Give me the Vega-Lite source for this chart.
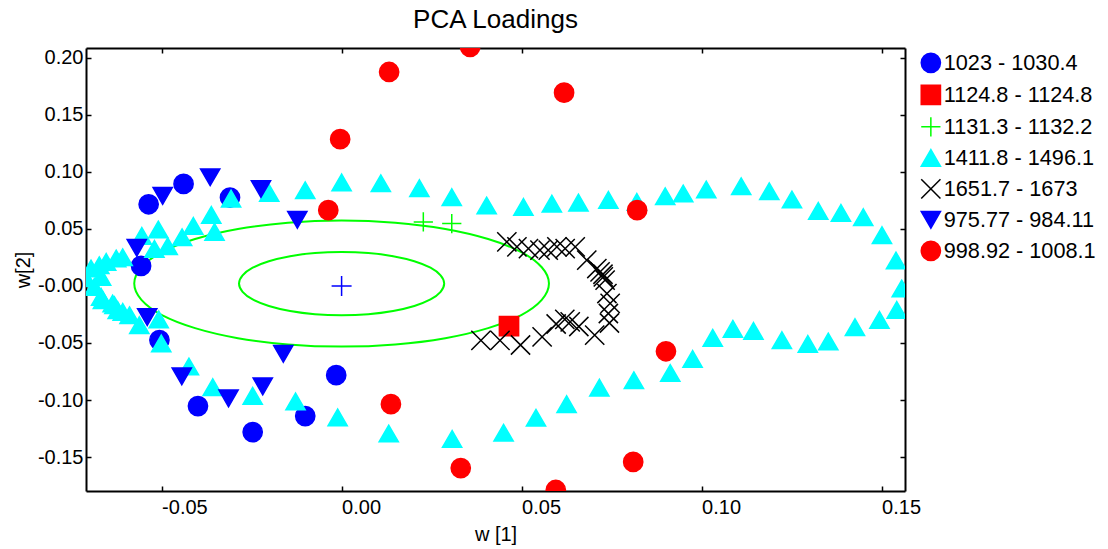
{
  "$schema": "https://vega.github.io/schema/vega-lite/v6.json",
  "width": 819,
  "height": 443,
  "autosize": {"type": "none"},
  "padding": {"left": 86, "top": 48, "right": 203, "bottom": 58},
  "background": "white",
  "title": {"text": "PCA Loadings", "fontSize": 26, "fontWeight": "normal", "color": "black", "anchor": "middle", "offset": 14},
  "config": {
    "font": "Liberation Sans",
    "view": {"stroke": null},
    "axis": {
      "grid": false,
      "domainColor": "black",
      "domainWidth": 2,
      "tickColor": "black",
      "tickWidth": 1.5,
      "tickSize": -5,
      "labelFontSize": 20,
      "labelColor": "black",
      "labelFlush": false,
      "labelOverlap": false,
      "titleFontSize": 20,
      "titleFontWeight": "normal",
      "titleColor": "black"
    }
  },
  "datasets": {
    "loadings": [
      {"band": "1023 - 1030.4", "w1": -0.0536, "w2": 0.0715},
      {"band": "1023 - 1030.4", "w1": -0.0439, "w2": 0.0893},
      {"band": "1023 - 1030.4", "w1": -0.0310, "w2": 0.0774},
      {"band": "1023 - 1030.4", "w1": -0.0557, "w2": 0.0175},
      {"band": "1023 - 1030.4", "w1": -0.0506, "w2": -0.0475},
      {"band": "1023 - 1030.4", "w1": -0.0399, "w2": -0.1053},
      {"band": "1023 - 1030.4", "w1": -0.0247, "w2": -0.1281},
      {"band": "1023 - 1030.4", "w1": -0.0101, "w2": -0.1141},
      {"band": "1023 - 1030.4", "w1": -0.0015, "w2": -0.0782},
      {"band": "1124.8 - 1124.8", "w1": 0.0465, "w2": -0.0353},
      {"band": "1131.3 - 1132.2", "w1": 0.0227, "w2": 0.0560},
      {"band": "1131.3 - 1132.2", "w1": 0.0306, "w2": 0.0546},
      {"band": "1411.8 - 1496.1", "w1": -0.0710, "w2": 0.0067},
      {"band": "1411.8 - 1496.1", "w1": -0.0696, "w2": 0.0152},
      {"band": "1411.8 - 1496.1", "w1": -0.0673, "w2": 0.0181},
      {"band": "1411.8 - 1496.1", "w1": -0.0654, "w2": 0.0210},
      {"band": "1411.8 - 1496.1", "w1": -0.0626, "w2": 0.0240},
      {"band": "1411.8 - 1496.1", "w1": -0.0608, "w2": 0.0251},
      {"band": "1411.8 - 1496.1", "w1": -0.0555, "w2": 0.0438},
      {"band": "1411.8 - 1496.1", "w1": -0.0520, "w2": 0.0324},
      {"band": "1411.8 - 1496.1", "w1": -0.0509, "w2": 0.0494},
      {"band": "1411.8 - 1496.1", "w1": -0.0483, "w2": 0.0348},
      {"band": "1411.8 - 1496.1", "w1": -0.0443, "w2": 0.0426},
      {"band": "1411.8 - 1496.1", "w1": -0.0412, "w2": 0.0525},
      {"band": "1411.8 - 1496.1", "w1": -0.0362, "w2": 0.0622},
      {"band": "1411.8 - 1496.1", "w1": -0.0353, "w2": 0.0473},
      {"band": "1411.8 - 1496.1", "w1": -0.0307, "w2": 0.0765},
      {"band": "1411.8 - 1496.1", "w1": -0.0201, "w2": 0.0814},
      {"band": "1411.8 - 1496.1", "w1": -0.0101, "w2": 0.0838},
      {"band": "1411.8 - 1496.1", "w1": 0.0000, "w2": 0.0907},
      {"band": "1411.8 - 1496.1", "w1": 0.0109, "w2": 0.0899},
      {"band": "1411.8 - 1496.1", "w1": 0.0216, "w2": 0.0856},
      {"band": "1411.8 - 1496.1", "w1": 0.0306, "w2": 0.0777},
      {"band": "1411.8 - 1496.1", "w1": 0.0403, "w2": 0.0704},
      {"band": "1411.8 - 1496.1", "w1": 0.0505, "w2": 0.0692},
      {"band": "1411.8 - 1496.1", "w1": 0.0584, "w2": 0.0721},
      {"band": "1411.8 - 1496.1", "w1": 0.0658, "w2": 0.0730},
      {"band": "1411.8 - 1496.1", "w1": 0.0741, "w2": 0.0753},
      {"band": "1411.8 - 1496.1", "w1": 0.0820, "w2": 0.0736},
      {"band": "1411.8 - 1496.1", "w1": 0.0899, "w2": 0.0785},
      {"band": "1411.8 - 1496.1", "w1": 0.0949, "w2": 0.0809},
      {"band": "1411.8 - 1496.1", "w1": 0.1013, "w2": 0.0844},
      {"band": "1411.8 - 1496.1", "w1": 0.1110, "w2": 0.0873},
      {"band": "1411.8 - 1496.1", "w1": 0.1188, "w2": 0.0829},
      {"band": "1411.8 - 1496.1", "w1": 0.1251, "w2": 0.0757},
      {"band": "1411.8 - 1496.1", "w1": 0.1324, "w2": 0.0657},
      {"band": "1411.8 - 1496.1", "w1": 0.1387, "w2": 0.0639},
      {"band": "1411.8 - 1496.1", "w1": 0.1449, "w2": 0.0602},
      {"band": "1411.8 - 1496.1", "w1": 0.1501, "w2": 0.0444},
      {"band": "1411.8 - 1496.1", "w1": 0.1540, "w2": 0.0222},
      {"band": "1411.8 - 1496.1", "w1": 0.1556, "w2": -0.0023},
      {"band": "1411.8 - 1496.1", "w1": 0.1542, "w2": -0.0210},
      {"band": "1411.8 - 1496.1", "w1": 0.1494, "w2": -0.0298},
      {"band": "1411.8 - 1496.1", "w1": 0.1426, "w2": -0.0362},
      {"band": "1411.8 - 1496.1", "w1": 0.1352, "w2": -0.0487},
      {"band": "1411.8 - 1496.1", "w1": 0.1295, "w2": -0.0508},
      {"band": "1411.8 - 1496.1", "w1": 0.1223, "w2": -0.0475},
      {"band": "1411.8 - 1496.1", "w1": 0.1144, "w2": -0.0394},
      {"band": "1411.8 - 1496.1", "w1": 0.1087, "w2": -0.0376},
      {"band": "1411.8 - 1496.1", "w1": 0.1031, "w2": -0.0455},
      {"band": "1411.8 - 1496.1", "w1": 0.0975, "w2": -0.0640},
      {"band": "1411.8 - 1496.1", "w1": 0.0913, "w2": -0.0763},
      {"band": "1411.8 - 1496.1", "w1": 0.0812, "w2": -0.0827},
      {"band": "1411.8 - 1496.1", "w1": 0.0716, "w2": -0.0891},
      {"band": "1411.8 - 1496.1", "w1": 0.0625, "w2": -0.1036},
      {"band": "1411.8 - 1496.1", "w1": 0.0540, "w2": -0.1155},
      {"band": "1411.8 - 1496.1", "w1": 0.0450, "w2": -0.1287},
      {"band": "1411.8 - 1496.1", "w1": 0.0307, "w2": -0.1340},
      {"band": "1411.8 - 1496.1", "w1": 0.0131, "w2": -0.1293},
      {"band": "1411.8 - 1496.1", "w1": -0.0011, "w2": -0.1152},
      {"band": "1411.8 - 1496.1", "w1": -0.0128, "w2": -0.1012},
      {"band": "1411.8 - 1496.1", "w1": -0.0247, "w2": -0.0963},
      {"band": "1411.8 - 1496.1", "w1": -0.0358, "w2": -0.0887},
      {"band": "1411.8 - 1496.1", "w1": -0.0424, "w2": -0.0706},
      {"band": "1411.8 - 1496.1", "w1": -0.0501, "w2": -0.0504},
      {"band": "1411.8 - 1496.1", "w1": -0.0508, "w2": -0.0294},
      {"band": "1411.8 - 1496.1", "w1": -0.0562, "w2": -0.0344},
      {"band": "1411.8 - 1496.1", "w1": -0.0589, "w2": -0.0257},
      {"band": "1411.8 - 1496.1", "w1": -0.0608, "w2": -0.0228},
      {"band": "1411.8 - 1496.1", "w1": -0.0622, "w2": -0.0213},
      {"band": "1411.8 - 1496.1", "w1": -0.0631, "w2": -0.0169},
      {"band": "1411.8 - 1496.1", "w1": -0.0636, "w2": -0.0154},
      {"band": "1411.8 - 1496.1", "w1": -0.0663, "w2": -0.0125},
      {"band": "1411.8 - 1496.1", "w1": -0.0668, "w2": -0.0096},
      {"band": "1411.8 - 1496.1", "w1": -0.0687, "w2": -0.0009},
      {"band": "1411.8 - 1496.1", "w1": -0.0668, "w2": 0.0079},
      {"band": "1651.7 - 1673", "w1": 0.0459, "w2": 0.0385},
      {"band": "1651.7 - 1673", "w1": 0.0487, "w2": 0.0342},
      {"band": "1651.7 - 1673", "w1": 0.0519, "w2": 0.0327},
      {"band": "1651.7 - 1673", "w1": 0.0551, "w2": 0.0313},
      {"band": "1651.7 - 1673", "w1": 0.0574, "w2": 0.0313},
      {"band": "1651.7 - 1673", "w1": 0.0598, "w2": 0.0342},
      {"band": "1651.7 - 1673", "w1": 0.0621, "w2": 0.0327},
      {"band": "1651.7 - 1673", "w1": 0.0649, "w2": 0.0342},
      {"band": "1651.7 - 1673", "w1": 0.0681, "w2": 0.0225},
      {"band": "1651.7 - 1673", "w1": 0.0709, "w2": 0.0152},
      {"band": "1651.7 - 1673", "w1": 0.0718, "w2": 0.0123},
      {"band": "1651.7 - 1673", "w1": 0.0726, "w2": 0.0102},
      {"band": "1651.7 - 1673", "w1": 0.0727, "w2": 0.0079},
      {"band": "1651.7 - 1673", "w1": 0.0732, "w2": 0.0050},
      {"band": "1651.7 - 1673", "w1": 0.0737, "w2": -0.0067},
      {"band": "1651.7 - 1673", "w1": 0.0746, "w2": -0.0154},
      {"band": "1651.7 - 1673", "w1": 0.0741, "w2": -0.0242},
      {"band": "1651.7 - 1673", "w1": 0.0744, "w2": -0.0325},
      {"band": "1651.7 - 1673", "w1": 0.0703, "w2": -0.0432},
      {"band": "1651.7 - 1673", "w1": 0.0659, "w2": -0.0356},
      {"band": "1651.7 - 1673", "w1": 0.0635, "w2": -0.0315},
      {"band": "1651.7 - 1673", "w1": 0.0620, "w2": -0.0294},
      {"band": "1651.7 - 1673", "w1": 0.0596, "w2": -0.0334},
      {"band": "1651.7 - 1673", "w1": 0.0557, "w2": -0.0447},
      {"band": "1651.7 - 1673", "w1": 0.0497, "w2": -0.0518},
      {"band": "1651.7 - 1673", "w1": 0.0440, "w2": -0.0478},
      {"band": "1651.7 - 1673", "w1": 0.0387, "w2": -0.0478},
      {"band": "975.77 - 984.11", "w1": -0.0497, "w2": 0.0788},
      {"band": "975.77 - 984.11", "w1": -0.0365, "w2": 0.0952},
      {"band": "975.77 - 984.11", "w1": -0.0224, "w2": 0.0849},
      {"band": "975.77 - 984.11", "w1": -0.0569, "w2": 0.0333},
      {"band": "975.77 - 984.11", "w1": -0.0540, "w2": -0.0274},
      {"band": "975.77 - 984.11", "w1": -0.0444, "w2": -0.0793},
      {"band": "975.77 - 984.11", "w1": -0.0314, "w2": -0.0986},
      {"band": "975.77 - 984.11", "w1": -0.0219, "w2": -0.0881},
      {"band": "975.77 - 984.11", "w1": -0.0162, "w2": -0.0595},
      {"band": "975.77 - 984.11", "w1": -0.0123, "w2": 0.0578},
      {"band": "998.92 - 1008.1", "w1": 0.0357, "w2": 0.2093},
      {"band": "998.92 - 1008.1", "w1": 0.0132, "w2": 0.1874},
      {"band": "998.92 - 1008.1", "w1": 0.0618, "w2": 0.1693},
      {"band": "998.92 - 1008.1", "w1": -0.0004, "w2": 0.1285},
      {"band": "998.92 - 1008.1", "w1": -0.0037, "w2": 0.0663},
      {"band": "998.92 - 1008.1", "w1": 0.0821, "w2": 0.0663},
      {"band": "998.92 - 1008.1", "w1": 0.0901, "w2": -0.0573},
      {"band": "998.92 - 1008.1", "w1": 0.0137, "w2": -0.1036},
      {"band": "998.92 - 1008.1", "w1": 0.0331, "w2": -0.1596},
      {"band": "998.92 - 1008.1", "w1": 0.0595, "w2": -0.1788},
      {"band": "998.92 - 1008.1", "w1": 0.0810, "w2": -0.1542}
    ],
    "ellipses": [
      {"ring": "outer", "i": 0, "w1": 0.0576, "w2": 0.0020},
      {"ring": "outer", "i": 1, "w1": 0.0556, "w2": 0.0163},
      {"ring": "outer", "i": 2, "w1": 0.0499, "w2": 0.0296},
      {"ring": "outer", "i": 3, "w1": 0.0407, "w2": 0.0410},
      {"ring": "outer", "i": 4, "w1": 0.0288, "w2": 0.0498},
      {"ring": "outer", "i": 5, "w1": 0.0149, "w2": 0.0553},
      {"ring": "outer", "i": 6, "w1": 0.0000, "w2": 0.0572},
      {"ring": "outer", "i": 7, "w1": -0.0149, "w2": 0.0553},
      {"ring": "outer", "i": 8, "w1": -0.0288, "w2": 0.0498},
      {"ring": "outer", "i": 9, "w1": -0.0407, "w2": 0.0410},
      {"ring": "outer", "i": 10, "w1": -0.0499, "w2": 0.0296},
      {"ring": "outer", "i": 11, "w1": -0.0556, "w2": 0.0163},
      {"ring": "outer", "i": 12, "w1": -0.0576, "w2": 0.0020},
      {"ring": "outer", "i": 13, "w1": -0.0556, "w2": -0.0123},
      {"ring": "outer", "i": 14, "w1": -0.0499, "w2": -0.0256},
      {"ring": "outer", "i": 15, "w1": -0.0407, "w2": -0.0370},
      {"ring": "outer", "i": 16, "w1": -0.0288, "w2": -0.0458},
      {"ring": "outer", "i": 17, "w1": -0.0149, "w2": -0.0513},
      {"ring": "outer", "i": 18, "w1": 0.0000, "w2": -0.0532},
      {"ring": "outer", "i": 19, "w1": 0.0149, "w2": -0.0513},
      {"ring": "outer", "i": 20, "w1": 0.0288, "w2": -0.0458},
      {"ring": "outer", "i": 21, "w1": 0.0407, "w2": -0.0370},
      {"ring": "outer", "i": 22, "w1": 0.0499, "w2": -0.0256},
      {"ring": "outer", "i": 23, "w1": 0.0556, "w2": -0.0123},
      {"ring": "inner", "i": 0, "w1": 0.0285, "w2": 0.0020},
      {"ring": "inner", "i": 1, "w1": 0.0275, "w2": 0.0092},
      {"ring": "inner", "i": 2, "w1": 0.0247, "w2": 0.0159},
      {"ring": "inner", "i": 3, "w1": 0.0202, "w2": 0.0216},
      {"ring": "inner", "i": 4, "w1": 0.0143, "w2": 0.0260},
      {"ring": "inner", "i": 5, "w1": 0.0074, "w2": 0.0288},
      {"ring": "inner", "i": 6, "w1": 0.0000, "w2": 0.0297},
      {"ring": "inner", "i": 7, "w1": -0.0074, "w2": 0.0288},
      {"ring": "inner", "i": 8, "w1": -0.0143, "w2": 0.0260},
      {"ring": "inner", "i": 9, "w1": -0.0202, "w2": 0.0216},
      {"ring": "inner", "i": 10, "w1": -0.0247, "w2": 0.0159},
      {"ring": "inner", "i": 11, "w1": -0.0275, "w2": 0.0092},
      {"ring": "inner", "i": 12, "w1": -0.0285, "w2": 0.0020},
      {"ring": "inner", "i": 13, "w1": -0.0275, "w2": -0.0052},
      {"ring": "inner", "i": 14, "w1": -0.0247, "w2": -0.0119},
      {"ring": "inner", "i": 15, "w1": -0.0202, "w2": -0.0176},
      {"ring": "inner", "i": 16, "w1": -0.0143, "w2": -0.0220},
      {"ring": "inner", "i": 17, "w1": -0.0074, "w2": -0.0248},
      {"ring": "inner", "i": 18, "w1": 0.0000, "w2": -0.0257},
      {"ring": "inner", "i": 19, "w1": 0.0074, "w2": -0.0248},
      {"ring": "inner", "i": 20, "w1": 0.0143, "w2": -0.0220},
      {"ring": "inner", "i": 21, "w1": 0.0202, "w2": -0.0176},
      {"ring": "inner", "i": 22, "w1": 0.0247, "w2": -0.0119},
      {"ring": "inner", "i": 23, "w1": 0.0275, "w2": -0.0052}
    ],
    "centre": [
      {"w1": 0.0, "w2": 0.0}
    ]
  },
  "layer": [
    {
      "data": {"name": "centre"},
      "mark": {"type": "point", "shape": "M-1,0L1,0M0,-1L0,1", "size": 400, "filled": false, "stroke": "#0000ff", "strokeWidth": 1.5, "opacity": 1, "clip": true},
      "encoding": {
        "x": {"field": "w1", "type": "quantitative", "scale": {"domain": [-0.071, 0.1565], "nice": false, "zero": false},
              "axis": {"orient": "top", "values": [-0.05, 0, 0.05, 0.1, 0.15], "labels": false, "title": null}},
        "y": {"field": "w2", "type": "quantitative", "scale": {"domain": [-0.1797, 0.2084], "nice": false, "zero": false},
              "axis": {"orient": "right", "values": [-0.15, -0.1, -0.05, 0, 0.05, 0.1, 0.15, 0.2], "labels": false, "title": null}}
      }
    },
    {
      "data": {"name": "ellipses"},
      "mark": {"type": "line", "interpolate": "cardinal-closed", "stroke": "#00ff00", "strokeWidth": 2, "clip": true},
      "encoding": {
        "x": {"field": "w1", "type": "quantitative", "scale": {"domain": [-0.071, 0.1565], "nice": false, "zero": false}, "axis": null},
        "y": {"field": "w2", "type": "quantitative", "scale": {"domain": [-0.1797, 0.2084], "nice": false, "zero": false}, "axis": null},
        "detail": {"field": "ring", "type": "nominal"},
        "order": {"field": "i", "type": "quantitative"}
      }
    },
    {
      "data": {"name": "loadings"},
      "mark": {"type": "point", "filled": true, "size": 370, "strokeWidth": 1.5, "opacity": 1, "clip": true},
      "encoding": {
        "x": {"field": "w1", "type": "quantitative", "scale": {"domain": [-0.071, 0.1565], "nice": false, "zero": false},
              "axis": {"orient": "bottom", "values": [-0.05, 0, 0.05, 0.1, 0.15], "title": "w [1]", "labelAlign": "left", "labelPadding": 11, "titlePadding": 7,
                       "labelExpr": "(datum.value < 0 ? '-' : '') + format(abs(datum.value), '.2f')"}},
        "y": {"field": "w2", "type": "quantitative", "scale": {"domain": [-0.1797, 0.2084], "nice": false, "zero": false},
              "axis": {"orient": "left", "values": [-0.15, -0.1, -0.05, 0, 0.05, 0.1, 0.15, 0.2], "title": "w[2]", "labelPadding": 8, "titlePadding": 4,
                       "labelExpr": "(datum.value <= 0 ? '-' : '') + format(abs(datum.value), '.2f')"}},
        "shape": {"field": "band", "type": "nominal",
                  "scale": {"domain": ["1023 - 1030.4", "1124.8 - 1124.8", "1131.3 - 1132.2", "1411.8 - 1496.1", "1651.7 - 1673", "975.77 - 984.11", "998.92 - 1008.1"],
                            "range": ["circle", "square", "M-1,0L1,0M0,-1L0,1", "triangle-up", "M-1,-1L1,1M-1,1L1,-1", "triangle-down", "circle"]},
                  "legend": {"orient": "none", "legendX": 834, "legendY": 4, "title": null, "padding": 0, "labelFontSize": 21.7, "labelColor": "black", "symbolSize": 370, "symbolStrokeWidth": 1.5, "rowPadding": 6, "labelOffset": 2}},
        "fill": {"field": "band", "type": "nominal",
                 "scale": {"domain": ["1023 - 1030.4", "1124.8 - 1124.8", "1131.3 - 1132.2", "1411.8 - 1496.1", "1651.7 - 1673", "975.77 - 984.11", "998.92 - 1008.1"],
                           "range": ["#0000ff", "#ff0000", "#00ff00", "#00ffff", "#000000", "#0000ff", "#ff0000"]},
                 "legend": {"orient": "none", "legendX": 834, "legendY": 4, "title": null, "padding": 0, "labelFontSize": 21.7, "labelColor": "black", "symbolSize": 370, "symbolStrokeWidth": 1.5, "rowPadding": 6, "labelOffset": 2}},
        "stroke": {"field": "band", "type": "nominal",
                   "scale": {"domain": ["1023 - 1030.4", "1124.8 - 1124.8", "1131.3 - 1132.2", "1411.8 - 1496.1", "1651.7 - 1673", "975.77 - 984.11", "998.92 - 1008.1"],
                             "range": ["#0000ff", "#ff0000", "#00ff00", "#00ffff", "#000000", "#0000ff", "#ff0000"]},
                   "legend": {"orient": "none", "legendX": 834, "legendY": 4, "title": null, "padding": 0, "labelFontSize": 21.7, "labelColor": "black", "symbolSize": 370, "symbolStrokeWidth": 1.5, "rowPadding": 6, "labelOffset": 2}}
      }
    }
  ],
  "resolve": {"axis": {"x": "independent", "y": "independent"}}
}
